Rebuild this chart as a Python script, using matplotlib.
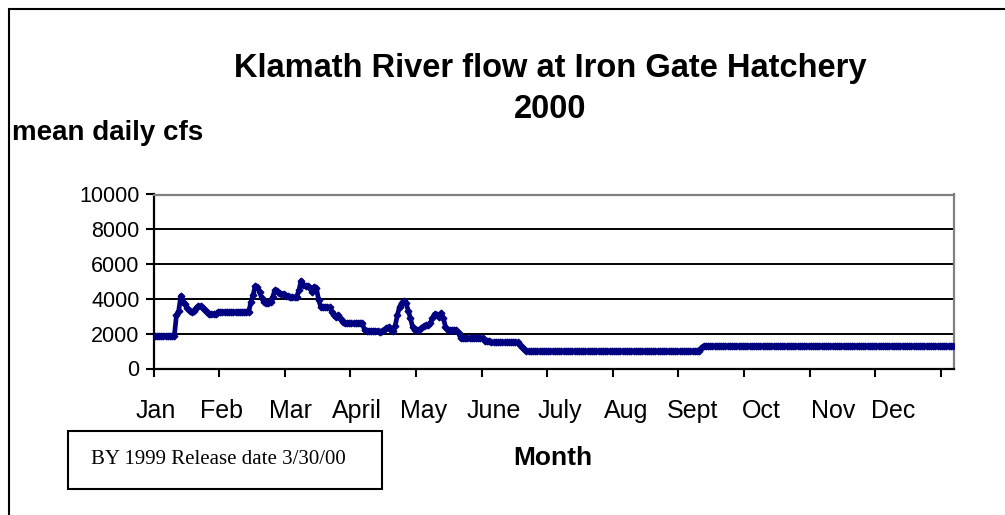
import numpy as np
import matplotlib
matplotlib.use("Agg")
import matplotlib.pyplot as plt
from matplotlib.patches import Rectangle

# Mean daily flow (cfs), Klamath River at Iron Gate, 2000 -- one list per month
jan = [1850, 1850, 1850, 1850, 1850, 1850, 1850, 1850, 1850, 1850,
       3070, 3300, 4180, 3840, 3690, 3460, 3300, 3250, 3300, 3460,
       3590, 3590, 3500, 3360, 3250, 3150, 3150, 3150, 3150, 3250, 3250]
feb = [3250, 3250, 3250, 3250, 3250, 3250, 3250, 3250, 3250, 3250,
       3250, 3250, 3250, 3800, 4220, 4740, 4700, 4410, 4030, 3840,
       3740, 3740, 3840, 4120, 4510, 4450, 4350, 4300, 4280]
mar = [4160, 4160, 4090, 4090, 4100, 4120, 4510, 5050, 4800, 4740,
       4740, 4610, 4410, 4700, 4610, 3930, 3550, 3510, 3510, 3510,
       3510, 3260, 3070, 2970, 3070, 2820, 2680, 2590, 2590, 2590, 2590]
apr = [2590, 2590, 2590, 2590, 2590, 2200, 2170, 2170, 2170, 2170,
       2170, 2170, 2110, 2150, 2200, 2300, 2400, 2200, 2170, 2450,
       3070, 3550, 3780, 3890, 3740, 3320, 2880, 2360, 2200, 2200]
may = [2230, 2300, 2440, 2480, 2490, 2600, 2880, 3130, 3100, 2970,
       3170, 2900, 2400, 2200, 2200, 2200, 2200, 2200, 2020, 1730,
       1730, 1730, 1730, 1730, 1730, 1730, 1730, 1730, 1730, 1730, 1590]
jun = [1590, 1590, 1500, 1500, 1500, 1500, 1500, 1500, 1500, 1500,
       1500, 1500, 1500, 1500, 1500, 1350, 1240, 1100, 1000, 1000,
       1000, 1000, 1000, 1000, 1000, 1000, 1000, 1000, 1000, 1000]
jul = [1000, 1000, 1000, 1000, 1000, 1000, 1000, 1000, 1000, 1000,
       1000, 1000, 1000, 1000, 1000, 1000, 1000, 1000, 1000, 1000,
       1000, 1000, 1000, 1000, 1000, 1000, 1000, 1000, 1000, 1000, 1000]
aug = [1000, 1000, 1000, 1000, 1000, 1000, 1000, 1000, 1000, 1000,
       1000, 1000, 1000, 1000, 1000, 1000, 1000, 1000, 1000, 1000,
       1000, 1000, 1000, 1000, 1000, 1000, 1000, 1000, 1000, 1000, 1000]
sep = [1000, 1000, 1000, 1000, 1000, 1000, 1150, 1300, 1300, 1300,
       1300, 1300, 1300, 1300, 1300, 1300, 1300, 1300, 1300, 1300,
       1300, 1300, 1300, 1300, 1300, 1300, 1300, 1300, 1300, 1300]
oct_ = [1300, 1300, 1300, 1300, 1300, 1300, 1300, 1300, 1300, 1300,
        1300, 1300, 1300, 1300, 1300, 1300, 1300, 1300, 1300, 1300,
        1300, 1300, 1300, 1300, 1300, 1300, 1300, 1300, 1300, 1300, 1300]
nov = [1300, 1300, 1300, 1300, 1300, 1300, 1300, 1300, 1300, 1300,
       1300, 1300, 1300, 1300, 1300, 1300, 1300, 1300, 1300, 1300,
       1300, 1300, 1300, 1300, 1300, 1300, 1300, 1300, 1300, 1300]
dec = [1300, 1300, 1300, 1300, 1300, 1300, 1300, 1300, 1300, 1300,
       1300, 1300, 1300, 1300, 1300, 1300, 1300, 1300, 1300, 1300,
       1300, 1300, 1300, 1300, 1300, 1300, 1300, 1300, 1300, 1300, 1300]

month_labels = ["Jan", "Feb", "Mar", "April", "May", "June",
                "July", "Aug", "Sept", "Oct", "Nov", "Dec"]
y_ticks = [0, 2000, 4000, 6000, 8000, 10000]

flow = np.array(jan + feb + mar + apr + may + jun + jul + aug + sep + oct_ + nov + dec)
days = np.arange(len(flow)) + 0.5

W, H = 1005, 515
fig = plt.figure(figsize=(W / 100, H / 100), dpi=100)
ax = fig.add_axes([153.5 / W, 1 - 368.5 / H, 800.5 / W, 174 / H])

ax.plot(days, flow, color="#000080", lw=3.4, marker="D", ms=3.4, zorder=3)

ax.set_xlim(0, len(flow))
ax.set_ylim(0, 10000)

# gridlines at each y tick
ax.set_yticks(y_ticks)
ax.set_yticklabels([str(v) for v in y_ticks], fontsize=15.5, family="Liberation Sans")
ax.yaxis.grid(True, color="black", lw=1.4)
ax.set_axisbelow(True)

# tick marks every 30 days, month names placed separately
ax.set_xticks(np.arange(0, len(flow), 30), minor=True)
label_pos = [1.1, 31.2, 62.6, 93.0, 123.6, 155.4, 186.0, 216.0, 246.5, 277.9, 310.6, 338.4]
ax.set_xticks(label_pos)
ax.set_xticklabels(month_labels, fontsize=18, family="Liberation Sans")
ax.tick_params(axis="x", which="major", length=0, pad=22)
ax.tick_params(axis="x", which="minor", length=6, width=1.5, direction="out")
ax.tick_params(axis="y", length=6, width=1.5, direction="out", pad=4)

for side in ["left", "bottom"]:
    ax.spines[side].set_color("black")
    ax.spines[side].set_linewidth(1.6)
for side in ["top", "right"]:
    ax.spines[side].set_color("#808080")
    ax.spines[side].set_linewidth(1.6)

fig.text(550 / W, 1 - 69 / H, "Klamath River flow at Iron Gate Hatchery",
         ha="center", va="center", fontsize=23.5, fontweight="bold", family="Liberation Sans")
fig.text(550 / W, 1 - 109 / H, "2000",
         ha="center", va="center", fontsize=23.5, fontweight="bold", family="Liberation Sans")
fig.text(12 / W, 1 - 133 / H, "mean daily cfs",
         ha="left", va="center", fontsize=20, fontweight="bold", family="Liberation Sans")
fig.text(553 / W, 1 - 458 / H, "Month",
         ha="center", va="center", fontsize=19, fontweight="bold", family="Liberation Sans")

# release note box
fig.add_artist(Rectangle((68 / W, 1 - 489 / H), 314 / W, 58 / H,
                         transform=fig.transFigure, fill=False, ec="black", lw=1.5))
fig.text(218 / W, 1 - 460 / H, "BY 1999 Release date 3/30/00",
         ha="center", va="center", fontsize=15, family="Liberation Serif")

# outer chart border (runs off the right and bottom edges)
fig.add_artist(Rectangle((9 / W, -0.1), 1.2, 1 - 9 / H + 0.1,
                         transform=fig.transFigure, fill=False, ec="black", lw=1.5))

fig.savefig("out.png", dpi=100)
